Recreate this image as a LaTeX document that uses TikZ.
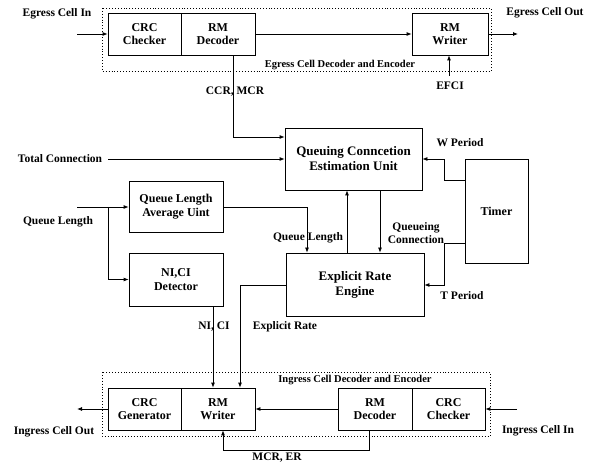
\documentclass[tikz,border=0pt]{standalone}
\usepackage{fontspec}
\setmainfont{Liberation Serif}
\usetikzlibrary{arrows.meta}
\begin{document}
\begin{tikzpicture}[x=1pt,y=-1pt,
  box/.style={draw, line width=0.8pt, inner sep=0pt, align=center,
    font=\bfseries\fontsize{12}{13.5}\selectfont},
  bigbox/.style={box, font=\bfseries\fontsize{13}{15}\selectfont},
  lbl/.style={font=\bfseries\fontsize{11.5}{13.5}\selectfont, inner sep=0pt, align=center},
  grp/.style={font=\bfseries\fontsize{10.5}{12}\selectfont, inner sep=0pt},
  frame/.style={draw, dotted, line width=0.9pt},
  wire/.style={line width=0.8pt},
  arr/.style={wire, -{Latex[length=5pt,width=4pt]}}]
\useasboundingbox (0,0) rectangle (590,468);

% Egress cell decoder and encoder
\draw[frame] (102,8) rectangle (491,71);
\node[box, minimum width=73pt, minimum height=42pt] (ecrc) at (144.5,34) {CRC\\Checker};
\node[box, minimum width=74pt, minimum height=42pt] (erm) at (218,34) {RM\\Decoder};
\node[box, minimum width=76pt, minimum height=42pt] (ewr) at (450,34) {RM\\Writer};
\node[grp] (egrp) at (340,65) {Egress Cell Decoder and Encoder};

% central units
\node[bigbox, minimum width=137pt, minimum height=62pt] (qceu) at (353.5,159) {Queuing Conncetion\\Estimation Unit};
\node[box, minimum width=63pt, minimum height=104pt] (timer) at (496.5,211) {Timer};
\node[bigbox, minimum width=138pt, minimum height=63pt] (ere) at (355,284.5) {Explicit Rate\\Engine};
\node[box, minimum width=94pt, minimum height=51pt] (qlau) at (176,206.5) {Queue Length\\Average Uint};
\node[box, minimum width=94pt, minimum height=53pt] (nici) at (176,279.5) {NI,CI\\Detector};

% Ingress cell decoder and encoder
\draw[frame] (102,372) rectangle (490,436);
\node[box, minimum width=73pt, minimum height=42pt] (icrcg) at (144.5,409) {CRC\\Generator};
\node[box, minimum width=74pt, minimum height=42pt] (irmw) at (218,409) {RM\\Writer};
\node[box, minimum width=74pt, minimum height=42pt] (irmd) at (375,409) {RM\\Decoder};
\node[box, minimum width=73pt, minimum height=42pt] (icrcc) at (448.5,409) {CRC\\Checker};
\node[grp] (igrp) at (355,380) {Ingress Cell Decoder and Encoder};

% free ends and bends
\coordinate (ein) at (77,34);
\coordinate (eout) at (518,34);
\coordinate (efci) at (449,76);
\coordinate (ccr) at (233,137);
\coordinate (tc) at (108,159);
\coordinate (w1) at (444,180);
\coordinate (w2) at (444,159);
\coordinate (t1) at (444,243);
\coordinate (t2) at (444,285);
\coordinate (up) at (347,0);
\coordinate (dn) at (380,0);
\coordinate (ql) at (307,207);
\coordinate (qin) at (77,207);
\coordinate (qbr) at (108,207);
\coordinate (nc) at (213,0);
\coordinate (er) at (240,285);
\coordinate (iin) at (517,409);
\coordinate (iout) at (77,409);
\coordinate (m1) at (369,450);
\coordinate (m2) at (223,450);

% egress connectors
\draw[arr] (ein) -- (ecrc.west);
\draw[arr] (erm.east) -- (ewr.west);
\draw[arr] (ewr.east) -- (eout);
\draw[arr] (efci) -- (efci |- ewr.south);
\draw[arr] (erm.south -| ccr) -- (ccr) -- (qceu.west |- ccr);

% central connectors
\draw[arr] (tc) -- (qceu.west);
\draw[arr] (timer.west |- w1) -- (w1) -- (w2) -- (qceu.east |- w2);
\draw[arr] (timer.west |- t1) -- (t1) -- (t2) -- (ere.east |- t2);
\draw[arr] (ere.north -| up) -- (qceu.south -| up);
\draw[arr] (qceu.south -| dn) -- (ere.north -| dn);
\draw[arr] (qlau.east |- ql) -- (ql) -- (ere.north -| ql);
\draw[arr] (qin) -- (qlau.west |- qin);
\draw[arr] (qbr) |- (nici.west);
\draw[arr] (nici.south -| nc) -- (irmw.north -| nc);
\draw[arr] (ere.west |- er) -- (er) -- (irmw.north -| er);

% ingress connectors
\draw[arr] (irmd.west) -- (irmw.east);
\draw[arr] (iin) -- (icrcc.east);
\draw[arr] (icrcg.west) -- (iout);
\draw[arr] (irmd.south -| m1) -- (m1) -- (m2) -- (irmw.south -| m2);

% signal labels
\node[lbl] at (57,14) {Egress Cell In};
\node[lbl] at (545,13) {Egress Cell Out};
\node[lbl] at (450,86) {EFCI};
\node[lbl] at (235,92) {CCR, MCR};
\node[lbl] at (60,159) {Total Connection};
\node[lbl] at (460,143) {W Period};
\node[lbl] at (58,222) {Queue Length};
\node[lbl] at (308,238) {Queue Length};
\node[lbl] at (416,233) {Queueing\\Connection};
\node[lbl] at (462,296) {T Period};
\node[lbl] at (214,327) {NI, CI};
\node[lbl] at (285,327) {Explicit Rate};
\node[lbl] at (54,432) {Ingress Cell Out};
\node[lbl] at (538,431) {Ingress Cell In};
\node[lbl] at (277,458) {MCR, ER};
\end{tikzpicture}
\end{document}
